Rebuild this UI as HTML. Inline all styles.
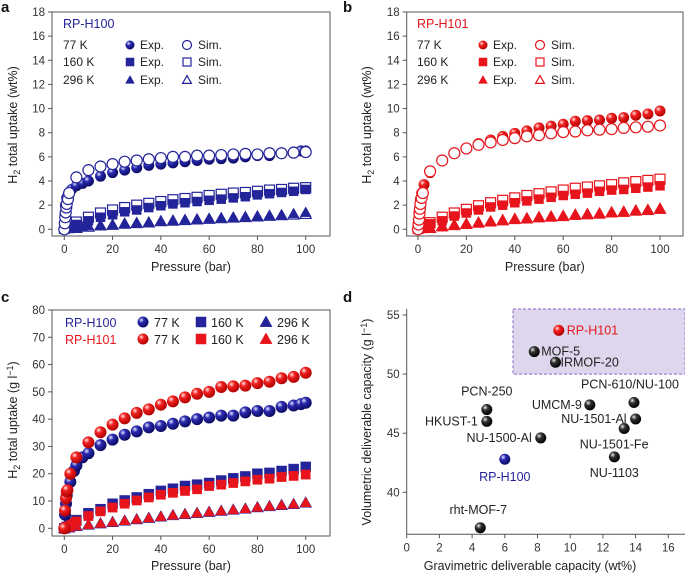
<!DOCTYPE html>
<html><head><meta charset="utf-8">
<style>
html,body{margin:0;padding:0;background:#fff;}
svg{display:block;font-family:"Liberation Sans",Arial,sans-serif;}
</style></head>
<body>
<svg id="fig" width="685" height="573" viewBox="0 0 685 573" xmlns="http://www.w3.org/2000/svg">
<defs>
<radialGradient id="gB" cx="35%" cy="32%" r="70%"><stop offset="0" stop-color="#e8e8ff"/><stop offset="0.35" stop-color="#2a2ab0"/><stop offset="1" stop-color="#0a0a60"/></radialGradient>
<radialGradient id="gR" cx="35%" cy="32%" r="70%"><stop offset="0" stop-color="#ffe8e8"/><stop offset="0.35" stop-color="#f02020"/><stop offset="1" stop-color="#b00000"/></radialGradient>
<radialGradient id="gK" cx="35%" cy="32%" r="70%"><stop offset="0" stop-color="#eeeeee"/><stop offset="0.35" stop-color="#333"/><stop offset="1" stop-color="#000"/></radialGradient>
</defs>
</svg>
<script>
// ---- Panel a data (RP-H100, wt%) ----
const aExp77X=[0,0.3,0.5,1,1.5,2,3,5,7.5,10,15,20,25,30,35,40,45,50,55,60,65,70,75,80,85,90,95,98,100];
const aExp77Y=[0,1.2,2,2.6,2.8,3.0,3.3,3.6,3.8,4.0,4.4,4.7,4.9,5.1,5.3,5.4,5.5,5.6,5.7,5.8,5.85,5.9,6.0,6.1,6.1,6.3,6.4,6.5,6.5];
const aSim77X=[0,0.2,0.4,0.6,0.8,1,1.5,2,5,10,15,20,25,30,35,40,45,50,55,60,65,70,75,80,85,90,95,100];
const aSim77Y=[0,0.5,1.0,1.4,1.8,2.1,2.5,3.0,4.3,4.9,5.2,5.4,5.6,5.7,5.8,5.9,6.0,6.0,6.1,6.1,6.15,6.2,6.25,6.2,6.3,6.3,6.35,6.4];
const aExp160X=[0,1,2,5,10,15,20,25,30,35,40,45,50,55,60,65,70,75,80,85,90,95,100];
const aExp160Y=[0,0.1,0.2,0.4,0.7,1.0,1.2,1.45,1.6,1.8,1.95,2.1,2.2,2.3,2.4,2.5,2.6,2.7,2.85,2.95,3.05,3.15,3.3];
const aSim160X=[5,10,15,20,25,30,35,40,45,50,55,60,65,70,75,80,85,90,95,100];
const aSim160Y=[0.6,1.0,1.35,1.6,1.8,2.0,2.15,2.3,2.45,2.55,2.65,2.8,2.9,3.0,3.05,3.15,3.25,3.3,3.4,3.45];
const aExp296X=[0,2,5,7.5,10,15,20,25,30,35,40,45,50,55,60,65,70,75,80,85,90,95,100];
const aExp296Y=[0,0.05,0.1,0.2,0.3,0.35,0.4,0.5,0.55,0.6,0.7,0.75,0.8,0.85,0.9,0.95,1.0,1.05,1.1,1.15,1.2,1.3,1.4];
const aSim296X=[5,10,15,20,25,30,35,40,45,50,55,60,65,70,75,80,85,90,95,100];
const aSim296Y=[0.1,0.2,0.3,0.35,0.45,0.5,0.55,0.65,0.7,0.75,0.8,0.85,0.9,0.95,1.0,1.05,1.1,1.15,1.2,1.25];
// ---- Panel b data (RP-H101, wt%) ----
const bExp77X=[0,0.3,0.5,1,1.5,2.5,5,10,15,20,25,30,35,40,45,50,55,60,65,70,75,80,85,90,95,100];
const bExp77Y=[0,0.8,1.5,2.5,3.0,3.7,4.7,5.7,6.3,6.7,7.1,7.4,7.7,7.95,8.15,8.4,8.55,8.7,8.95,9.0,9.05,9.2,9.25,9.45,9.55,9.8];
const bSim77X=[0,0.2,0.4,0.6,0.8,1,1.5,2,5,10,15,20,25,30,35,40,45,50,55,60,65,70,75,80,85,90,95,100];
const bSim77Y=[0,0.4,0.8,1.3,1.7,2.1,2.6,3.0,4.8,5.7,6.3,6.7,7.0,7.2,7.4,7.55,7.7,7.8,7.95,8.05,8.1,8.2,8.25,8.3,8.4,8.45,8.5,8.6];
const bExp160X=[0,1,2,5,10,15,20,25,30,35,40,45,50,55,60,65,70,75,80,85,90,95,100];
const bExp160Y=[0,0.1,0.2,0.45,0.7,1.1,1.35,1.6,1.85,2.0,2.2,2.35,2.5,2.65,2.8,2.9,3.0,3.15,3.25,3.3,3.4,3.5,3.6];
const bSim160X=[5,10,15,20,25,30,35,40,45,50,55,60,65,70,75,80,85,90,95,100];
const bSim160Y=[0.55,1.0,1.35,1.65,1.95,2.2,2.4,2.6,2.8,2.95,3.1,3.25,3.4,3.5,3.6,3.7,3.85,3.95,4.05,4.15];
const bExp296X=[0,2,5,10,15,20,25,30,35,40,45,50,55,60,65,70,75,80,85,90,95,100];
const bExp296Y=[0,0.05,0.08,0.2,0.3,0.4,0.5,0.6,0.7,0.8,0.85,0.95,1.0,1.05,1.15,1.2,1.25,1.35,1.4,1.5,1.55,1.65];
const bSim296X=[5,10,15,20,25,30,35,40,45,50,55,60,65,70,75,80,85,90,95,100];
const bSim296Y=[0.1,0.25,0.35,0.45,0.55,0.65,0.75,0.85,0.9,1.0,1.05,1.1,1.2,1.25,1.3,1.4,1.45,1.55,1.6,1.7];
// ---- Panel c data (g/l) ----
const cB77X=[0,0.3,0.7,1,2.5,4,5,7.5,10,15,20,25,30,35,40,45,50,55,60,65,70,75,80,85,90,95,98,100];
const cB77Y=[0,5,9,12,17,21,23,26,27.5,30.5,32.5,34.3,35.5,37,37.5,38.3,39.2,40,40.6,41.3,41.3,42.5,43,43,44.5,45,45.5,46];
const cR77X=[0,0.3,0.7,1,1.3,2.5,5,10,15,20,25,30,35,40,45,50,55,60,65,70,75,80,85,90,95,100];
const cR77Y=[0,6.5,11,13.5,14,20,26,31.5,35.2,38,40.3,42.3,43.6,45.3,46.5,48,49.3,50,51.8,52,52.3,53.2,53.7,55,55.5,57];
const cB160X=[0,1,2,3,4,5,10,15,20,25,30,35,40,45,50,55,60,65,70,75,80,85,90,95,100];
const cB160Y=[0,0.5,1,1.5,2,3,5.5,7,9,10.2,11.3,12.5,13.7,14.5,15.5,16,16.6,17.5,18.3,19,20,20.3,21,21.7,22.5];
const cR160X=[0,1,2,3,4,5,10,15,20,25,30,35,40,45,50,55,60,65,70,75,80,85,90,95,100];
const cR160Y=[0,0.4,0.8,1.2,1.8,2.5,4.5,6.2,7.6,9,10.2,11.3,12.3,13,13.7,14.3,15.5,16,16.6,17.2,17.8,18.2,18.8,19.2,19.7];
const c296X=[0,2,5,10,15,20,25,30,35,40,45,50,55,60,65,70,75,80,85,90,95,100];
const cB296Y=[0,0.3,0.8,1.3,1.8,2.3,2.8,3.3,3.8,4.3,4.8,5.2,5.6,6.0,6.4,6.8,7.2,7.7,8.1,8.5,8.9,9.4];
const cR296Y=[0,0.3,0.8,1.3,1.8,2.3,2.8,3.3,3.8,4.3,4.8,5.2,5.6,6.0,6.4,6.8,7.2,7.7,8.1,8.5,8.9,9.4];
// ---- Panel d data ----
const dNames=["RP-H101","MOF-5","IRMOF-20","PCN-250","HKUST-1","NU-1500-Al","RP-H100","UMCM-9","PCN-610/NU-100","NU-1501-Al","NU-1501-Fe","NU-1103","rht-MOF-7"];
const dGrav=[9.3,7.8,9.1,4.9,4.9,8.2,6.0,11.2,13.9,14.0,13.3,12.7,4.5];
const dVol=[53.7,51.9,51.0,47.0,46.0,44.6,42.8,47.4,47.6,46.2,45.4,43.0,37.0];
// tick labels
const wtTicks=[0,2,4,6,8,10,12,14,16,18];
const pTicks=[0,20,40,60,80,100];
const glTicks=[0,10,20,30,40,50,60,70,80];
const dXTicks=[0,2,4,6,8,10,12,14,16];
const dYTicks=[40,45,50,55];

const NS="http://www.w3.org/2000/svg";
const svg=document.getElementById('fig');
function mk(tag,attrs,parent){const e=document.createElementNS(NS,tag);for(const k in attrs)e.setAttribute(k,attrs[k]);(parent||svg).appendChild(e);return e;}
function txt(s,x,y,attrs,parent){const e=mk('text',Object.assign({x:x,y:y,'font-size':11,fill:'#222'},attrs||{}),parent);e.textContent=s;return e;}
function lin(d0,d1,r0,r1){return v=>r0+(v-d0)/(d1-d0)*(r1-r0);}

const BLUE="#24249a",RED="#e8141c";
function marker(g,shape,cx,cy,r,color,filled,grad){
  let e;
  if(shape==='o'){e=mk('circle',{cx:cx,cy:cy,r:r},g);}
  else if(shape==='s'){e=mk('rect',{x:cx-r,y:cy-r,width:2*r,height:2*r},g);}
  else {e=mk('polygon',{points:`${cx},${cy-r*1.1} ${cx+r*1.1},${cy+r*0.85} ${cx-r*1.1},${cy+r*0.85}`},g);}
  if(filled){e.setAttribute('fill',grad&&shape==='o'?`url(#${grad})`:color);e.setAttribute('stroke',shape==='o'?'none':color);e.setAttribute('stroke-width',0.5);}
  else{e.setAttribute('fill','#fff');e.setAttribute('stroke',color);e.setAttribute('stroke-width',1.2);}
  return e;
}
function series(panel,name,xs,ys,sx,sy,shape,color,filled,grad,r){
  const g=mk('g',{},panel);
  
  
  for(let i=0;i<xs.length;i++){
    const m=marker(g,shape,sx(xs[i]),sy(ys[i]),r,color,filled,grad);
    
    
  }
}
function axesBox(panel,L,R,T,B,sx,sy,xt,yt,box){
  const ax=mk('g',{},panel);
  
  
  if(box) mk('rect',{x:L,y:T,width:R-L,height:B-T,fill:'none',stroke:'#555','stroke-width':1},ax);
  else{mk('line',{x1:L,y1:T,x2:L,y2:B,stroke:'#555','stroke-width':1},ax);mk('line',{x1:L,y1:B,x2:R,y2:B,stroke:'#555','stroke-width':1},ax);}
  const xg=mk('g',{},ax);
  
  
  xt.forEach(v=>{const x=sx(v);mk('line',{x1:x,y1:B,x2:x,y2:B+4,stroke:'#555'},xg);txt(String(v),x,B+17,{'text-anchor':'middle','font-size':11.5,fill:'#333'},xg);});
  const yg=mk('g',{},ax);
  
  
  yt.forEach(v=>{const y=sy(v);mk('line',{x1:L-4,y1:y,x2:L,y2:y,stroke:'#555'},yg);txt(String(v),L-7,y+4,{'text-anchor':'end','font-size':11.5,fill:'#333'},yg);});
}
function panelLetter(s,x,y){const t=txt(s,x,y,{'font-size':15,'font-weight':'bold',fill:'#111'});}
function ytitle(parts,x,cy,name){
  const t=mk('text',{x:0,y:0,transform:`translate(${x},${cy}) rotate(-90)`,'text-anchor':'middle','font-size':12.5,fill:'#222'});
  
  
  parts.forEach(p=>{const s=mk('tspan',p.a||{},t);s.textContent=p.s;});
}

// ===== Panels a and b =====
function wtPanel(id,L,R,x0,x100,label,color,grad,D,lx,symx,simx){
  const p=mk('g',{});
  
  
  const sx=lin(0,100,x0,x100), sy=lin(0,18,229.3,12);
  axesBox(p,L,R,12,236,sx,sy,pTicks,wtTicks,true);
  series(p,'sim-296k',D[10],D[11],sx,sy,'t',color,false,null,5);
  series(p,'exp-296k',D[4],D[5],sx,sy,'t',color,true,null,5);
  series(p,'sim-160k',D[8],D[9],sx,sy,'s',color,false,null,5);
  series(p,'exp-160k',D[2],D[3],sx,sy,'s',color,true,null,4.5);
  series(p,'exp-77k',D[0],D[1],sx,sy,'o',color,true,grad,5.5);
  series(p,'sim-77k',D[6],D[7],sx,sy,'o',color,false,null,5.5);
  const lg=mk('g',{},p);
  
  
  txt(label,lx,28,{'font-size':12.5,fill:color},lg);
  [['77 K','o',45],['160 K','s',62],['296 K','t',80]].forEach(r=>{
    txt(r[0],lx,r[2]+4,{'font-size':12,fill:'#222'},lg);
    marker(lg,r[1],symx,r[2],r[1]==='o'?4.5:4,color,true,grad);
    txt('Exp.',symx+10,r[2]+4,{'font-size':12,fill:'#222'},lg);
    marker(lg,r[1],simx,r[2],r[1]==='o'?4.5:4,color,false,null);
    txt('Sim.',simx+11,r[2]+4,{'font-size':12,fill:'#222'},lg);
  });
  const xt=txt('Pressure (bar)',(L+R)/2,271,{'text-anchor':'middle','font-size':12.5,fill:'#222'},p);
  
  
}
wtPanel('panel-a',52,330,64.3,305.7,'RP-H100',BLUE,'gB',
  [aExp77X,aExp77Y,aExp160X,aExp160Y,aExp296X,aExp296Y,aSim77X,aSim77Y,aSim160X,aSim160Y,aSim296X,aSim296Y],63,130,187);
wtPanel('panel-b',406.7,683,418,660,'RP-H101',RED,'gR',
  [bExp77X,bExp77Y,bExp160X,bExp160Y,bExp296X,bExp296Y,bSim77X,bSim77Y,bSim160X,bSim160Y,bSim296X,bSim296Y],417,483,540);
ytitle([{s:'H'},{s:'2',a:{'font-size':9,dy:3}},{s:' total uptake (wt%)',a:{dy:-3}}],17,125,'y-axis-title-a');
ytitle([{s:'H'},{s:'2',a:{'font-size':9,dy:3}},{s:' total uptake (wt%)',a:{dy:-3}}],371,125,'y-axis-title-b');
panelLetter('a',1,12);panelLetter('b',343,12);

// ===== Panel c =====
(function(){
  const p=mk('g',{});
  
  
  const L=52,R=330,T=310,B=536;
  const sx=lin(0,100,64.3,305.7), sy=lin(0,80,528.3,310);
  axesBox(p,L,R,T,B,sx,sy,pTicks,glTicks,true);
  series(p,'rp-h100-296k',c296X,cB296Y,sx,sy,'t',BLUE,true,null,5.5);
  series(p,'rp-h101-296k',c296X,cR296Y,sx,sy,'t',RED,true,null,4.8);
  series(p,'rp-h100-160k',cB160X,cB160Y,sx,sy,'s',BLUE,true,null,5);
  series(p,'rp-h101-160k',cR160X,cR160Y,sx,sy,'s',RED,true,null,4.6);
  series(p,'rp-h100-77k',cB77X,cB77Y,sx,sy,'o',BLUE,true,'gB',6);
  series(p,'rp-h101-77k',cR77X,cR77Y,sx,sy,'o',RED,true,'gR',6);
  const lg=mk('g',{},p);
  
  
  [[BLUE,'gB','RP-H100',322],[RED,'gR','RP-H101',339]].forEach(r=>{
    txt(r[2],65,r[3]+5,{'font-size':12.5,fill:r[0]},lg);
    marker(lg,'o',143,r[3],5.5,r[0],true,r[1]);
    txt('77 K',154,r[3]+5,{'font-size':12.5,fill:'#222'},lg);
    marker(lg,'s',201,r[3],5,r[0],true,null);
    txt('160 K',211,r[3]+5,{'font-size':12.5,fill:'#222'},lg);
    marker(lg,'t',266,r[3],5.5,r[0],true,null);
    txt('296 K',277,r[3]+5,{'font-size':12.5,fill:'#222'},lg);
  });
  const xt=txt('Pressure (bar)',191,570,{'text-anchor':'middle','font-size':12.5,fill:'#222'},p);
  
  
})();
ytitle([{s:'H'},{s:'2',a:{'font-size':9,dy:3}},{s:' total uptake (g l',a:{dy:-3}},{s:'−1',a:{'font-size':9,dy:-4}},{s:')',a:{dy:4}}],17,420,'y-axis-title-c');
panelLetter('c',1,302);

// ===== Panel d =====
(function(){
  const p=mk('g',{});
  
  
  const L=406.7,R=685,T=309,B=534.3;
  const sx=lin(0,16,406.7,668.3), sy=lin(40,55,492.3,315);
  const hl=mk('rect',{x:sx(6.5),y:T,width:R-sx(6.5),height:sy(50)-T,fill:'#ddd6ec',stroke:'#9b7fd0','stroke-width':1.2,'stroke-dasharray':'3,2'},p);
  
  
  axesBox(p,L,R,T,B,sx,sy,dXTicks,dYTicks,false);
  const lab={"RP-H101":[8,4,'start'],"MOF-5":[7,4,'start'],"IRMOF-20":[5,4,'start'],"PCN-250":[0,-14,'middle'],"HKUST-1":[-9,4,'end'],"NU-1500-Al":[-9,4,'end'],"RP-H100":[0,22,'middle'],"UMCM-9":[-8,4,'end'],"PCN-610/NU-100":[-4,-14,'middle'],"NU-1501-Al":[-9,4,'end'],"NU-1501-Fe":[-10,20,'middle'],"NU-1103":[0,20,'middle'],"rht-MOF-7":[-2,-14,'middle']};
  for(let i=0;i<dNames.length;i++){
    const n=dNames[i];
    const col=n==='RP-H101'?RED:(n==='RP-H100'?BLUE:'#111');
    const gr=n==='RP-H101'?'gR':(n==='RP-H100'?'gB':'gK');
    const g=mk('g',{},p);
    
    
    const x=sx(dGrav[i]),y=sy(dVol[i]);
    mk('circle',{cx:x,cy:y,r:5.5,fill:`url(#${gr})`},g);
    const o=lab[n];
    txt(n,x+o[0],y+o[1],{'text-anchor':o[2],'font-size':12.5,fill:(n==='RP-H101'||n==='RP-H100')?col:'#222'},g);
  }
  const xt=txt('Gravimetric deliverable capacity (wt%)',530,570,{'text-anchor':'middle','font-size':12.5,fill:'#222'},p);
  
  
})();
ytitle([{s:'Volumetric deliverable capacity (g l'},{s:'−1',a:{'font-size':9,dy:-4}},{s:')',a:{dy:4}}],371,422,'y-axis-title-d');
panelLetter('d',343,302);
</script>
</body></html>
